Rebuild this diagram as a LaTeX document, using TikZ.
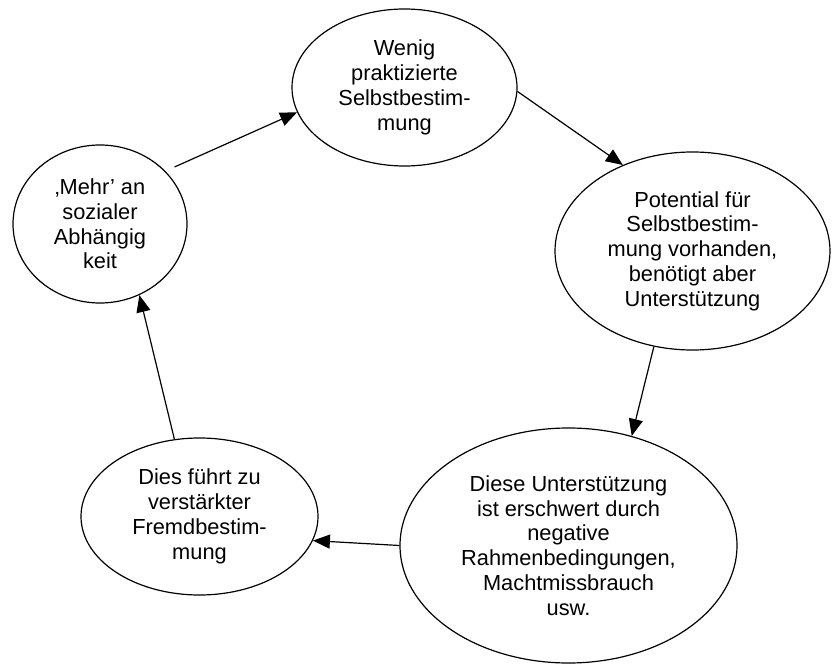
\documentclass[tikz,border=0pt]{standalone}
\usepackage{fontspec}
\setmainfont{Liberation Sans}
\usepackage{tikz}
\usetikzlibrary{arrows.meta}
\usetikzlibrary{shapes.geometric}
\tikzset{bubble/.style = {draw, ellipse, inner sep = 0, line width = 0.6pt, align = center, font = \fontsize{10.9}{12.4}\selectfont}}
\tikzset{flow/.style = {-{Triangle[length = 8.5pt, width = 7pt]}, line width = 0.6pt}}

\begin{document}
\begin{tikzpicture}[x=0.5pt, y=-0.5pt]
\useasboundingbox (0, 0) rectangle (832, 664);

      \node [bubble, minimum width = 112.5pt, minimum height = 78.5pt] (wenig) at (404.5, 87.5)
            {Wenig\\praktizierte\\Selbstbestim-\\mung};
      \node [bubble, minimum width = 137.5pt, minimum height = 99pt] (potential) at (692.5, 251)
            {Potential für\\Selbstbestim-\\mung vorhanden,\\benötigt aber\\Unterstützung};
      \node [bubble, minimum width = 168.5pt, minimum height = 117.5pt] (diese) at (568.5, 545.5)
            {Diese Unterstützung\\ist erschwert durch\\negative\\Rahmenbedingungen,\\Machtmissbrauch\\usw.};
      \node [bubble, minimum width = 118.5pt, minimum height = 78.5pt] (dies) at (199.5, 516.5)
            {Dies führt zu\\verstärkter\\Fremdbestim-\\mung};
      \node [bubble, minimum width = 87pt, minimum height = 79pt] (mehr) at (100, 224)
            {‚Mehr’ an\\sozialer\\Abhängig\\keit};

      \draw [flow, shorten <= 5pt] (mehr.39) -- (wenig.193);
      \draw [flow] (wenig.-2) -- (potential.129);
      \draw [flow] (potential.248) -- (diese.60);
      \draw [flow] (diese.180) -- (dies.-12);
      \draw [flow] (dies.108) -- (mehr.-61);
    \end{tikzpicture}
\end{document}
